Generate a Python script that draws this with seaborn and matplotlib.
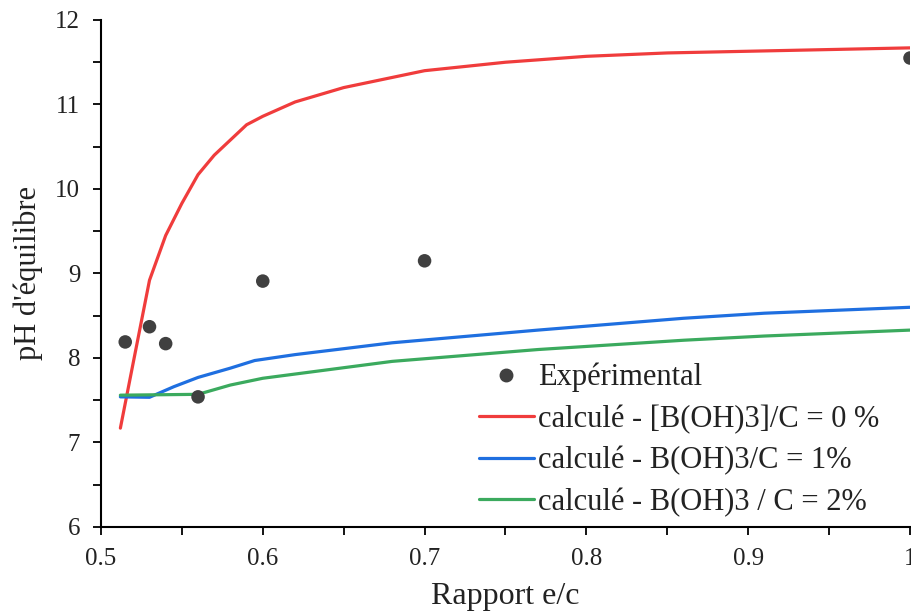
import matplotlib
matplotlib.use('Agg')
import matplotlib.pyplot as plt
import seaborn as sns
import pandas as pd
from matplotlib.ticker import MultipleLocator
from matplotlib.lines import Line2D

# valeurs
exp_x = [0.515, 0.530, 0.540, 0.560, 0.600, 0.700, 1.000]
exp_ph = [8.19, 8.37, 8.17, 7.54, 8.91, 9.15, 11.55]

b0_x = [0.512, 0.52, 0.53, 0.54, 0.55, 0.56, 0.57, 0.58, 0.59, 0.60, 0.62,
        0.65, 0.70, 0.75, 0.80, 0.85, 0.90, 0.95, 1.00]
b0_ph = [7.17, 7.95, 8.92, 9.45, 9.83, 10.17, 10.40, 10.58, 10.76, 10.86, 11.03,
         11.20, 11.40, 11.50, 11.57, 11.61, 11.63, 11.65, 11.67]

b1_x = [0.512, 0.53, 0.545, 0.56, 0.58, 0.595, 0.62, 0.68, 0.77, 0.86, 0.91, 1.00]
b1_ph = [7.54, 7.535, 7.66, 7.77, 7.88, 7.97, 8.04, 8.18, 8.33, 8.47, 8.53, 8.60]

b2_x = [0.512, 0.56, 0.58, 0.60, 0.68, 0.77, 0.86, 0.91, 1.00]
b2_ph = [7.56, 7.57, 7.68, 7.76, 7.96, 8.10, 8.21, 8.26, 8.33]

labels = ['Expérimental',
          'calculé - [B(OH)3]/C = 0 %',
          'calculé - B(OH)3/C = 1%',
          'calculé - B(OH)3 / C = 2%']
couleurs = ['#404040', '#F03C3C', '#1F6FE0', '#3BAA5E']

sns.set_theme(style='ticks')
plt.rcParams['font.family'] = ['Liberation Serif', 'DejaVu Serif']

df_exp = pd.DataFrame({'x': exp_x, 'ph': exp_ph})
df_calc = pd.concat([
    pd.DataFrame({'x': b0_x, 'ph': b0_ph, 'serie': labels[1]}),
    pd.DataFrame({'x': b1_x, 'ph': b1_ph, 'serie': labels[2]}),
    pd.DataFrame({'x': b2_x, 'ph': b2_ph, 'serie': labels[3]}),
])

fig = plt.figure(figsize=(9.12, 6.13), dpi=100)
ax = fig.add_axes([0.1107, 0.1403, 0.8871, 0.8271])

sns.lineplot(data=df_calc, x='x', y='ph', hue='serie', palette=couleurs[1:],
             estimator=None, sort=False, linewidth=2.3, ax=ax, legend=False)
sns.scatterplot(data=df_exp, x='x', y='ph', color=couleurs[0], s=95,
                edgecolor='none', ax=ax, zorder=5)

ax.set_xlim(0.5, 1.0)
ax.set_ylim(6, 12)
ax.xaxis.set_major_locator(MultipleLocator(0.1))
ax.xaxis.set_minor_locator(MultipleLocator(0.05))
ax.yaxis.set_major_locator(MultipleLocator(1))
ax.yaxis.set_minor_locator(MultipleLocator(0.5))
ax.xaxis.set_major_formatter(plt.FuncFormatter(lambda v, p: f'{v:g}'))
ax.tick_params(which='both', direction='out', length=6, width=1.3, color='black',
               labelsize=18, labelcolor='#222222', pad=9)
for s in ['top', 'right']:
    ax.spines[s].set_visible(False)
for s in ['left', 'bottom']:
    ax.spines[s].set_color('black')
    ax.spines[s].set_linewidth(1.5)

ax.set_xlabel('Rapport e/c', fontsize=23, color='#222222', labelpad=9)
ax.set_ylabel("pH d'équilibre", fontsize=22, color='#222222', labelpad=9)

handles = [Line2D([], [], marker='o', linestyle='none', color=couleurs[0], markersize=9)]
handles += [Line2D([], [], color=c, linewidth=2.3) for c in couleurs[1:]]
ax.legend(handles, labels, loc='lower right', bbox_to_anchor=(0.985, -0.016),
          frameon=False, fontsize=22, handlelength=1.8, handletextpad=0.15,
          labelspacing=0.4, borderaxespad=0.2, labelcolor='#222222')

fig.savefig('out.png', dpi=100)
